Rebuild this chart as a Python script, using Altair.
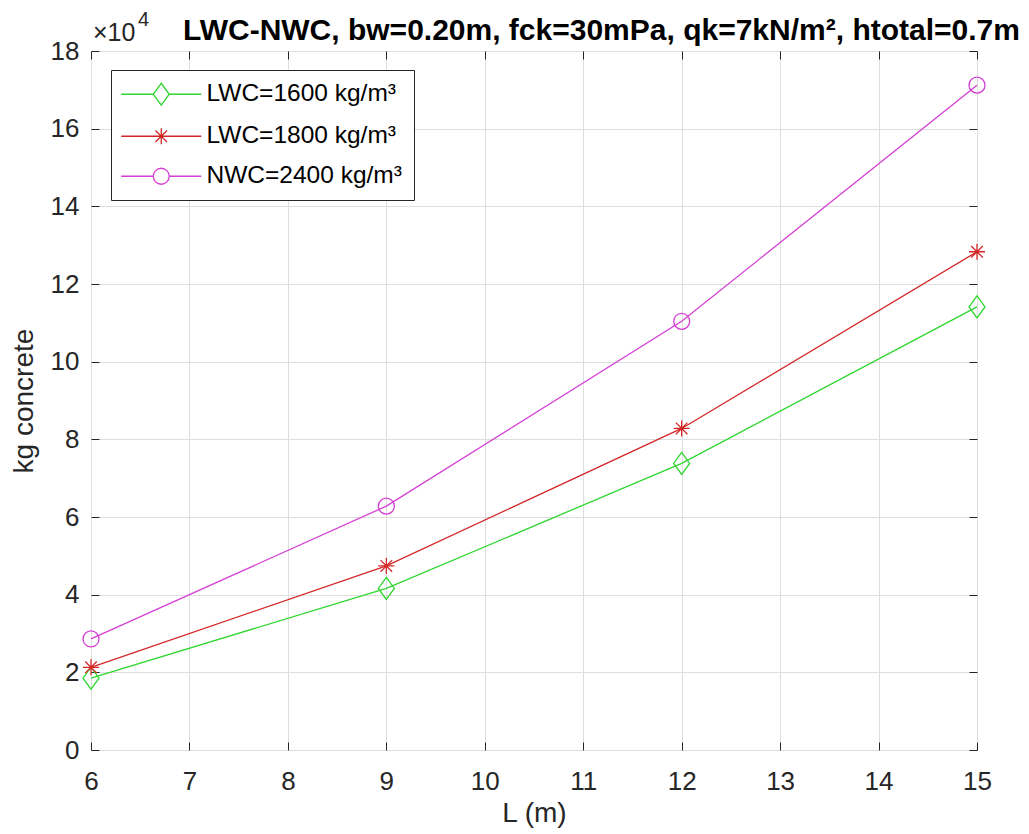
import altair as alt
import pandas as pd

# Beam span (m) and mass of concrete (kg) for each concrete type
span_m = [6, 9, 12, 15]
lwc_1600 = [18500, 41600, 73800, 114100]
lwc_1800 = [21300, 47400, 82800, 128300]
nwc_2400 = [28600, 62800, 110400, 171200]

series_names = ["LWC=1600 kg/m³", "LWC=1800 kg/m³", "NWC=2400 kg/m³"]
series_colors = ["#2fd62f", "#d42626", "#d43fd4"]

x_ticks = list(range(6, 16))
y_ticks = list(range(0, 180001, 20000))

chart_title = "LWC-NWC, bw=0.20m, fck=30mPa, qk=7kN/m², htotal=0.7m"

FONT = "Liberation Sans"
INK = "#262626"
GRID = "#dedede"

# marker outlines (MATLAB-like diamond, asterisk, circle)
marker_paths = [
    "M0,-2.75L2,0L0,2.75L-2,0Z",
    "M0,-2L0,2M-2,0L2,0M-1.45,-1.45L1.45,1.45M-1.45,1.45L1.45,-1.45",
    "M-2,0A2,2 0 1,0 2,0A2,2 0 1,0 -2,0",
]
# legend keys: a line segment running through the marker
legend_paths = [
    "M-10,0L-2,0M2,0L10,0M0,-2.75L2,0L0,2.75L-2,0Z",
    "M-10,0L10,0M0,-2L0,2M-1.45,-1.45L1.45,1.45M-1.45,1.45L1.45,-1.45",
    "M-10,0L-2,0M2,0L10,0M-2,0A2,2 0 1,0 2,0A2,2 0 1,0 -2,0",
]

rows = []
for name, vals in zip(series_names, [lwc_1600, lwc_1800, nwc_2400]):
    for L, kg in zip(span_m, vals):
        rows.append({"L": L, "kg": kg, "series": name, "key": name})
df = pd.DataFrame(rows)
one_row = pd.DataFrame({"t": [0]})

x_scale = alt.Scale(domain=[6, 15], nice=False, zero=False)
y_scale = alt.Scale(domain=[0, 180000], nice=False)
color_scale = alt.Scale(domain=series_names, range=series_colors)

base = alt.Chart(df)

# bottom / left axes: labels, grid and inward ticks
lines = base.mark_line(strokeWidth=1.3).encode(
    x=alt.X("L:Q", scale=x_scale, axis=alt.Axis(
        values=x_ticks, title="L (m)", grid=True, gridColor=GRID,
        domain=False, ticks=True, tickSize=8, offset=-8, tickColor=INK,
        labelFont=FONT, labelFontSize=26, labelColor=INK, labelPadding=18,
        labelFlush=False, titleFont=FONT, titleFontSize=28,
        titleFontWeight="normal", titleColor=INK, titlePadding=5)),
    y=alt.Y("kg:Q", scale=y_scale, axis=alt.Axis(
        values=y_ticks, labelExpr="datum.value / 10000", title="kg concrete",
        grid=True, gridColor=GRID, domain=False, ticks=True, tickSize=8,
        offset=-8, tickColor=INK, labelFont=FONT, labelFontSize=26,
        labelColor=INK, labelPadding=12, labelFlush=False, titleFont=FONT,
        titleFontSize=28, titleFontWeight="normal", titleColor=INK,
        titlePadding=12)),
    color=alt.Color("series:N", scale=color_scale, legend=None),
    detail="series:N",
)

# top / right axes: inward ticks only
frame_ticks = base.mark_point(opacity=0).encode(
    x=alt.X("L:Q", scale=x_scale, axis=alt.Axis(
        orient="top", values=x_ticks, labels=False, title=None, grid=False,
        domain=False, ticks=True, tickSize=8, offset=-8, tickColor=INK)),
    y=alt.Y("kg:Q", scale=y_scale, axis=alt.Axis(
        orient="right", values=y_ticks, labels=False, title=None, grid=False,
        domain=False, ticks=True, tickSize=8, offset=-8, tickColor=INK)),
)

markers = base.mark_point(filled=False, size=64, strokeWidth=1.3, opacity=1).encode(
    x=alt.X("L:Q", scale=x_scale, axis=None),
    y=alt.Y("kg:Q", scale=y_scale, axis=None),
    color=alt.Color("series:N", scale=color_scale, legend=None),
    shape=alt.Shape("series:N", scale=alt.Scale(domain=series_names, range=marker_paths), legend=None),
)

legend_layer = base.transform_filter("false").mark_point(
    filled=False, size=64, strokeWidth=1.3, opacity=1).encode(
    x=alt.X("L:Q", scale=x_scale, axis=None),
    y=alt.Y("kg:Q", scale=y_scale, axis=None),
    color=alt.Color("key:N", scale=alt.Scale(domain=series_names, range=series_colors),
                    legend=alt.Legend(
                        title=None, orient="none", legendX=20, legendY=19,
                        fillColor="white", strokeColor=INK, padding=12,
                        labelFont=FONT, labelFontSize=24.5, labelColor="black",
                        labelLimit=500, symbolSize=64, symbolStrokeWidth=1.3,
                        symbolOffset=26, labelOffset=33, rowPadding=15)),
    shape=alt.Shape("key:N", scale=alt.Scale(domain=series_names, range=legend_paths)),
)

text_base = alt.Chart(one_row)
exp_base = text_base.mark_text(font=FONT, fontSize=25, color=INK, align="left",
                               baseline="alphabetic").encode(
    x=alt.value(2), y=alt.value(-10), text=alt.value("×10"))
exp_power = text_base.mark_text(font=FONT, fontSize=20, color=INK, align="left",
                                baseline="alphabetic").encode(
    x=alt.value(47), y=alt.value(-25), text=alt.value("4"))
title_text = text_base.mark_text(font=FONT, fontSize=30, fontWeight="bold",
                                 color="black", align="left",
                                 baseline="alphabetic").encode(
    x=alt.value(92), y=alt.value(-11), text=alt.value(chart_title))

chart = alt.layer(
    lines, frame_ticks, markers, legend_layer, exp_base, exp_power, title_text
).resolve_scale(
    color="independent", shape="independent"
).resolve_axis(
    x="independent", y="independent"
).properties(
    width=886, height=699, autosize="none",
    padding={"left": 91, "top": 51, "right": 52, "bottom": 84},
).configure_view(stroke=INK, strokeWidth=1.2).configure(background="white")

chart.save("out.html", embed_options={"renderer": "svg", "actions": False})
